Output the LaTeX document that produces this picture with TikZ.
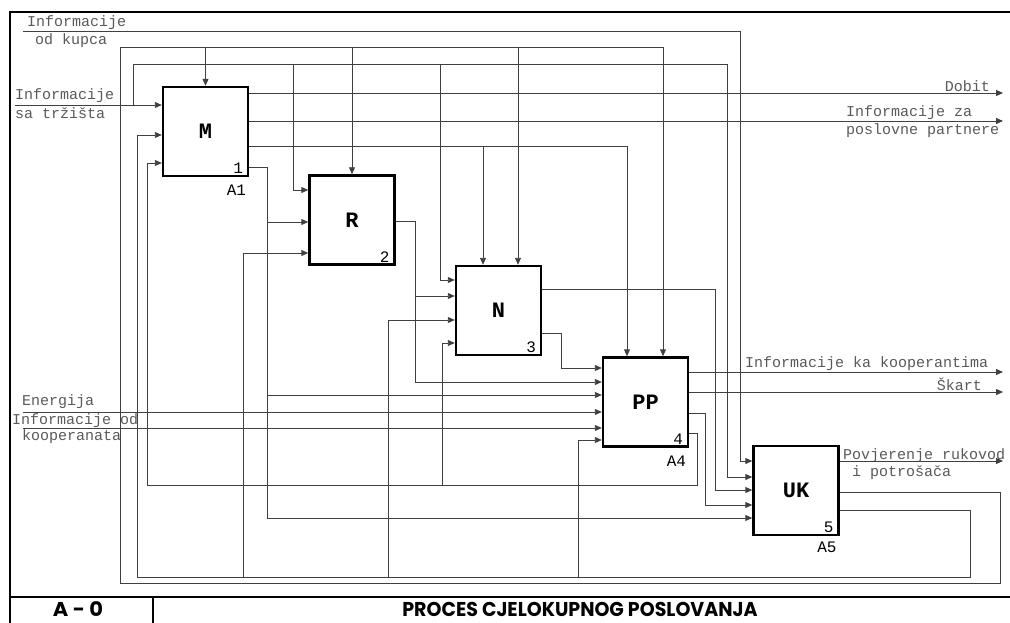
\documentclass[tikz,border=0pt]{standalone}
\usepackage{graphicx}
\usepackage{fontspec}
\newfontfamily\monofont{Liberation Mono}
\newfontfamily\titlefont{Poppins}
\usepackage{tikz}
\usetikzlibrary{arrows.meta, positioning, calc}

\begin{document}
\begin{tikzpicture}[x=1pt, y=-1pt,
    func/.style={draw, line width=2.4pt, minimum width=85pt, minimum height=89pt, inner sep=0pt, font=\monofont\bfseries\fontsize{22}{24}\selectfont},
    flow/.style={-{Triangle[length=7pt,width=6pt]}, line width=0.9pt, draw=black!75},
    lbl/.style={font=\monofont\fontsize{15}{17}\selectfont, text=black!65, inner sep=0pt},
    num/.style={font=\monofont\fontsize{16}{18}\selectfont, inner sep=0pt},
    title/.style={font=\titlefont\bfseries\fontsize{20}{22}\selectfont, inner sep=0pt}
]
    \useasboundingbox (0,0) rectangle (1010,623);

    % Okvir
    \draw[line width=2pt] (1010,12) -- (10,12) -- (10,623);
    \draw[line width=2pt] (10,597) -- (1010,597);
    \draw[line width=1.5pt] (153,597) -- (153,623);
    \node[title] (oznaka) at (78,609) {\scalebox{1.05}[1]{A - 0}};
    \node[title] (naziv) at (580,609) {\scalebox{0.95}[1]{PROCES CJELOKUPNOG POSLOVANJA}};

    % Funkcije
    \node[func] (M) at (205.5,131.5) {M};
    \node[func] (R) at (352,220) {R};
    \node[func] (N) at (498.5,310.5) {N};
    \node[func] (PP) at (645.5,402) {PP};
    \node[func] (UK) at (796,490.5) {UK};

    \node[num, anchor=south east] at ([shift={(-6pt,3pt)}]M.south east) {1};
    \node[num, anchor=south east] at ([shift={(-6pt,3pt)}]R.south east) {2};
    \node[num, anchor=south east] at ([shift={(-6pt,3pt)}]N.south east) {3};
    \node[num, anchor=south east] at ([shift={(-6pt,3pt)}]PP.south east) {4};
    \node[num, anchor=south east] at ([shift={(-6pt,3pt)}]UK.south east) {5};
    \node[num, anchor=north east] at ([shift={(-3pt,-8pt)}]M.south east) {A1};
    \node[num, anchor=north east] at ([shift={(-3pt,-8pt)}]PP.south east) {A4};
    \node[num, anchor=north east] at ([shift={(-3pt,-6pt)}]UK.south east) {A5};

    % Ulazi i izlazi
    \coordinate (kupac) at (23,31);
    \coordinate (trziste) at (15,105);
    \coordinate (energija) at (23,412);
    \coordinate (koop) at (23,428);
    \coordinate (dobit) at (1003,93);
    \coordinate (partneri) at (1003,121);
    \coordinate (kooperanti) at (1003,372);
    \coordinate (skart) at (1003,392);
    \coordinate (povjerenje) at (1003,461);

    \node[lbl, anchor=west] (kupacA) at (27,23) {Informacije};
    \node[lbl, anchor=west] (kupacB) at (35,41) {od kupca};
    \node[lbl, anchor=west] (trzisteA) at (15,96) {Informacije};
    \node[lbl, anchor=west] (trzisteB) at (15,113) {sa tržišta};
    \node[lbl, anchor=east] (dobitA) at (990,86) {Dobit};
    \node[lbl, anchor=west] (partneriA) at (846,113) {Informacije za};
    \node[lbl, anchor=west] (partneriB) at (846,131) {poslovne partnere};
    \node[lbl, anchor=west] (kooperantiA) at (745,364) {Informacije ka kooperantima};
    \node[lbl, anchor=east] (skartA) at (982,384) {Škart};
    \node[lbl, anchor=west] (energijaA) at (22,402) {Energija};
    \node[lbl, anchor=west] (koopA) at (12,421) {Informacije od};
    \node[lbl, anchor=west] (koopB) at (22,437) {kooperanata};
    \node[lbl, anchor=west] (povjerenjeA) at (843,456) {Povjerenje rukovod};
    \node[lbl, anchor=west] (povjerenjeB) at (852,473) {i potrošača};

    % Informacije od kupca
    \draw[flow] (kupac) -| (740,461) -- (UK.west |- 0,461);

    % Informacije sa trzista
    \draw[flow] (trziste) -- (M.west |- trziste);
    \draw[flow] (133,105) |- (727,64) -- (727,477) -- (UK.west |- 0,477);
    \draw[flow] (293,64) |- (R.west |- 0,190);
    \draw[flow] (440,64) |- (N.west |- 0,280);

    % Povratne veze iz UK
    \draw[flow] (UK.east |- 0,492) -| (1000,583) -| (120,47) -| (PP.north -| 663,0);
    \draw[flow] (M.north |- 0,47) -- (M.north);
    \draw[flow] (R.north |- 0,47) -- (R.north);
    \draw[flow] (518,47) -- (N.north -| 518,0);
    \draw[flow] (UK.east |- 0,510) -| (970,577) -| (137,135) -- (M.west |- 0,135);
    \draw[flow] (243,577) |- (R.west |- 0,253);
    \draw[flow] (388,577) |- (N.west |- 0,320);
    \draw[flow] (578,577) |- (PP.west |- 0,440);

    % Izlazi M
    \draw[flow] (M.east |- dobit) -- (dobit);
    \draw[flow] (M.east |- partneri) -- (partneri);
    \draw[flow] (M.east |- 0,146) -| (PP.north -| 627,0);
    \draw[flow] (483,146) -- (N.north -| 483,0);
    \draw[flow] (M.east |- 0,167) -| (267,518) -- (UK.west |- 0,518);
    \draw[flow] (267,222) -- (R.west |- 0,222);
    \draw[flow] (267,395) -- (PP.west |- 0,395);

    % Izlazi R
    \draw[flow] (R.east |- 0,221) -| (415,382) -- (PP.west |- 0,382);
    \draw[flow] (415,296) -- (N.west |- 0,296);

    % Izlazi N
    \draw[flow] (N.east |- 0,289) -| (715,490) -- (UK.west |- 0,490);
    \draw[flow] (N.east |- 0,333) -| (561,368) -- (PP.west |- 0,368);

    % Izlazi PP
    \draw[flow] (PP.east |- kooperanti) -- (kooperanti);
    \draw[flow] (PP.east |- skart) -- (skart);
    \draw[flow] (PP.east |- 0,413) -| (705,505) -- (UK.west |- 0,505);
    \draw[flow] (PP.east |- 0,433) -| (697,485) -| (147,163) -- (M.west |- 0,163);
    \draw[flow] (442,485) |- (N.west |- 0,343);

    % Izlazi UK
    \draw[flow] (UK.east |- povjerenje) -- (povjerenje);

    % Energija i kooperanti
    \draw[flow] (energija) -- (PP.west |- energija);
    \draw[flow] (koop) -- (PP.west |- koop);
\end{tikzpicture}
\end{document}
